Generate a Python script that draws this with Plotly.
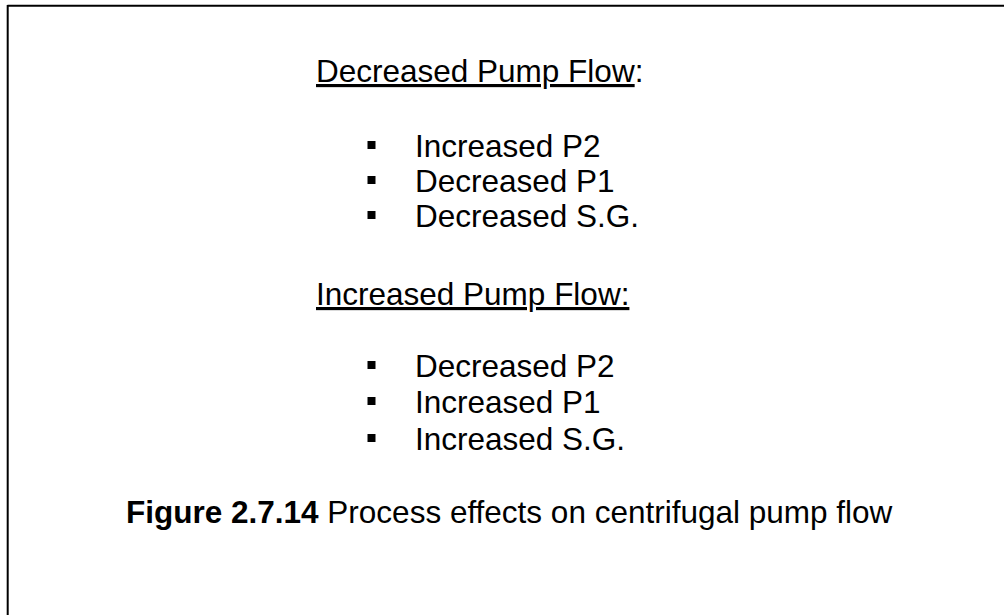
"""
Process effects on centrifugal pump flow — text-only figure
(two headed bullet lists plus a caption, inside a partial frame).
"""

import plotly.graph_objects as go

_FONT = dict(family="Arial, 'Liberation Sans', sans-serif", size=31.5, color="#000000")

# ── Content ──────────────────────────────────────────────────────────────────
headings = ["<u>Decreased Pump Flow</u>:", "<u>Increased Pump Flow:</u>"]
heading_y = [82, 305]                      # text baselines (px from top)

decreased_items = ["Increased P2", "Decreased P1", "Decreased S.G."]
decreased_y = [157, 192, 227]

increased_items = ["Decreased P2", "Increased P1", "Increased S.G."]
increased_y = [377, 413, 450]

caption = "<b>Figure 2.7.14</b> Process effects on centrifugal pump flow"
caption_y = 523

W, H = 1004, 615
HEAD_X = 314
BULLET_X = 371.5
TEXT_X = 413
CAPTION_X = 124
MID = 0.35 * _FONT["size"]                 # baseline → middle of text box

items = decreased_items + increased_items
items_y = decreased_y + increased_y

fig = go.Figure()

# Square bullets
fig.add_trace(
    go.Scatter(
        x=[BULLET_X] * len(items),
        y=[b - 12 for b in items_y],
        mode="markers",
        marker=dict(symbol="square", size=8, color="#000000", line=dict(width=0)),
        hoverinfo="skip",
        showlegend=False,
    )
)

for txt, b in zip(headings, heading_y):
    fig.add_annotation(
        text=txt, x=HEAD_X, y=b - MID, xanchor="left", yanchor="middle",
        showarrow=False, font=_FONT,
    )

for txt, b in zip(items, items_y):
    fig.add_annotation(
        text=txt, x=TEXT_X, y=b - MID, xanchor="left", yanchor="middle",
        showarrow=False, font=_FONT,
    )

fig.add_annotation(
    text=caption, x=CAPTION_X, y=caption_y - MID, xanchor="left", yanchor="middle",
    showarrow=False, font=_FONT,
)

# ── Frame: top and left edges only ───────────────────────────────────────────
fig.add_shape(type="line", x0=7.5, x1=W, y0=5.8, y1=5.8,
              line=dict(color="#000000", width=2))
fig.add_shape(type="line", x0=7.7, x1=7.7, y0=5, y1=H,
              line=dict(color="#000000", width=2))

fig.update_layout(
    width=W,
    height=H,
    plot_bgcolor="white",
    paper_bgcolor="white",
    margin=dict(l=0, r=0, t=0, b=0),
    font=_FONT,
)
fig.update_xaxes(range=[0, W], visible=False, fixedrange=True)
fig.update_yaxes(range=[H, 0], visible=False, fixedrange=True)

fig.write_html(
    "out.html",
    config=dict(displayModeBar=False),
    post_script="document.body.style.margin='0';document.body.style.overflow='hidden';",
)
